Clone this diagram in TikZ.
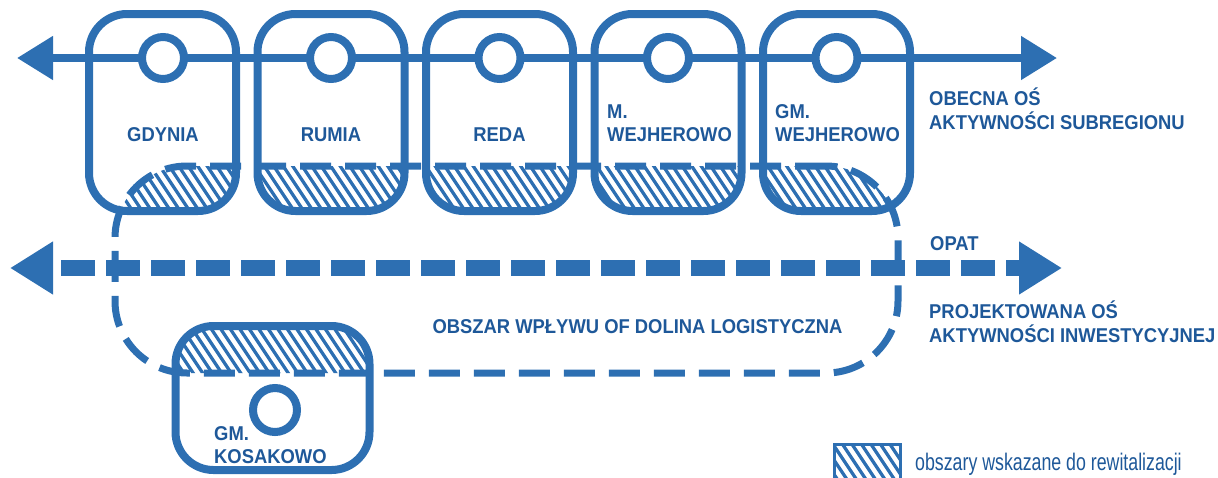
\documentclass[tikz,border=0pt]{standalone}
\usepackage{fontspec}
\setmainfont{Liberation Sans}
\newfontfamily\capsfont{Liberation Sans}[FakeStretch=0.92]
\newfontfamily\keyfont{Liberation Sans}[FakeStretch=0.74]
\usetikzlibrary{arrows.meta}
\definecolor{axisblue}{RGB}{45,111,178}
\definecolor{labelblue}{RGB}{30,88,153}

\begin{document}
\begin{tikzpicture}[
  x=1pt, y=-1pt,
  townbox/.style={draw=axisblue, line width=8pt, rounded corners=38pt, minimum width=147pt, minimum height=197pt, inner sep=0pt, outer sep=0pt},
  hub/.style={circle, draw=axisblue, fill=white, line width=8pt, minimum size=42pt, inner sep=0pt},
  zone/.style={draw=axisblue, line width=7pt, dash pattern=on 31pt off 14pt, rounded corners=72pt, minimum width=783pt, minimum height=207pt, inner sep=0pt, outer sep=0pt},
  hatchline/.style={draw=axisblue, line width=3.3pt},
  townlabel/.style={text=labelblue, font=\capsfont\bfseries\fontsize{20}{23}\selectfont, align=left, inner sep=0pt},
  axislabel/.style={townlabel, font=\capsfont\bfseries\fontsize{20}{24}\selectfont},
  keylabel/.style={text=labelblue, font=\keyfont\fontsize{24}{28}\selectfont, inner sep=0pt},
  axis/.style={draw=axisblue, line width=8pt, >={Triangle[length=36pt,width=42pt]}, <->},
  projaxis/.style={draw=axisblue, line width=16pt, dash pattern=on 34pt off 11pt, dash phase=34pt, >={Triangle[length=43pt,width=50pt]}, <->},
  keybox/.style={draw=axisblue, line width=3pt, minimum width=66pt, minimum height=36pt, inner sep=0pt, outer sep=0pt}
]
\useasboundingbox (0,0) rectangle (1218,477);

% gminy
\node[townbox] (gdynia) at (162.5,112.5) {};
\node[townbox] (rumia)  at (331,112.5) {};
\node[townbox] (reda)   at (499.5,112.5) {};
\node[townbox] (mwejh)  at (668,112.5) {};
\node[townbox] (gmwejh) at (836.5,112.5) {};
\node[townbox, minimum width=194pt, minimum height=144pt] (kosak) at (272.5,398) {};

% obszar wplywu
\node[zone] (zone) at (506.5,269.5) {};
\begin{scope}
  \clip[rounded corners=72pt] (zone.south west) rectangle (zone.north east);
  \clip[rounded corners=38pt] (gdynia.south west) rectangle (gdynia.north east)
    (rumia.south west) rectangle (rumia.north east)
    (reda.south west) rectangle (reda.north east)
    (mwejh.south west) rectangle (mwejh.north east)
    (gmwejh.south west) rectangle (gmwejh.north east)
    (kosak.south west) rectangle (kosak.north east);
  \foreach \hx in {-60,-50.5,...,900}
    \draw[hatchline] (\hx,150) -- ++(250,375);
\end{scope}

% osie
\coordinate (subW) at (17,58);
\coordinate (subE) at (1057,58);
\draw[axis] (subW) -- (subE);
\coordinate (invW) at (10,268);
\coordinate (invE) at (1062,268);
\draw[projaxis] (invW) -- (invE);

\node[hub] (gdyniahub) at (163,58) {};
\node[hub] (rumiahub)  at (331,58) {};
\node[hub] (redahub)   at (499.5,58) {};
\node[hub] (mwejhhub)  at (668,58) {};
\node[hub] (gmwejhhub) at (836.5,58) {};
\node[hub, minimum size=44pt] (kosakhub) at (275,410) {};

\node[townlabel, anchor=base] (gdynialab) at (163,141) {GDYNIA};
\node[townlabel, anchor=base] (rumialab)  at (331,141) {RUMIA};
\node[townlabel, anchor=base] (redalab)   at (499.5,141) {REDA};
\node[townlabel, anchor=base west] (mwejhlab)  at (607,141) {M.\\WEJHEROWO};
\node[townlabel, anchor=base west] (gmwejhlab) at (775,141) {GM.\\WEJHEROWO};
\node[townlabel, anchor=base west] (kosaklab)  at (214,463) {GM.\\KOSAKOWO};
\node[townlabel, anchor=base] (zonelab) at (637.5,333) {OBSZAR WPŁYWU OF DOLINA LOGISTYCZNA};

\node[axislabel, anchor=base west] (sublab)  at (929,129) {OBECNA OŚ\\AKTYWNOŚCI SUBREGIONU};
\node[axislabel, anchor=base west] (opatlab) at (930,250) {OPAT};
\node[axislabel, anchor=base west] (invlab)  at (929,342) {PROJEKTOWANA OŚ\\AKTYWNOŚCI INWESTYCYJNEJ};

% legenda
\node[keybox] (key) at (867.5,462.5) {};
\begin{scope}
  \clip (key.south west) rectangle (key.north east);
  \foreach \hx in {795,804.5,...,900}
    \draw[hatchline] (\hx,430) -- ++(40,60);
\end{scope}
\node[keylabel, anchor=base west] (keylab) at (915,470) {obszary wskazane do rewitalizacji};
\end{tikzpicture}
\end{document}
